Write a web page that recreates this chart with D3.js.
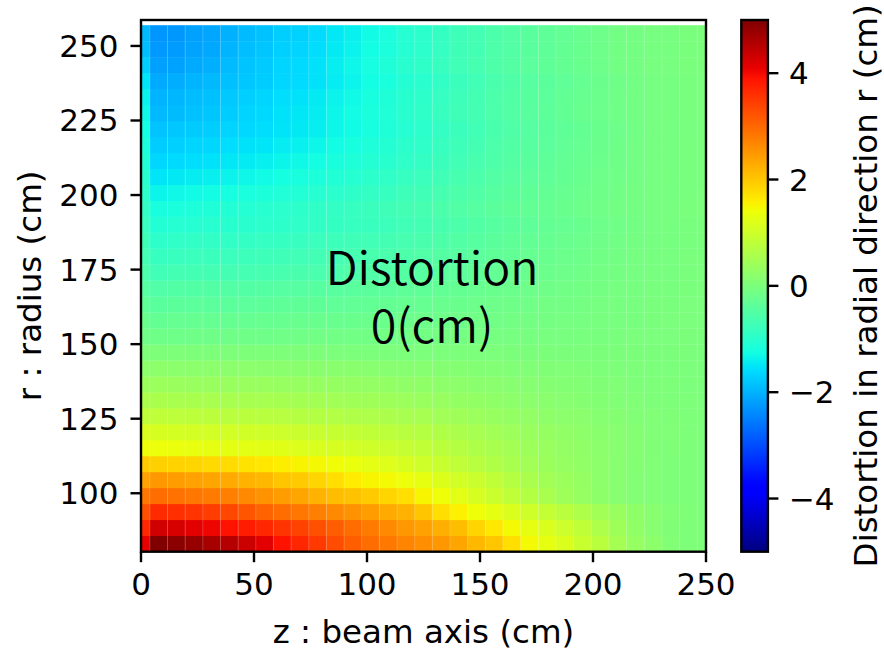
<!DOCTYPE html>
<html>
<head>
<meta charset="utf-8">
<script src="https://cdn.jsdelivr.net/npm/d3@7/dist/d3.min.js"></script>
<style>
	body { margin: 0; background: #ffffff; }
	text { font-family: "DejaVu Sans", sans-serif; fill: #000; }
</style>
</head>
<body>
<svg id="distortion_svg"></svg>
<script>
// grid centres along the beam axis (cm)
const zBins = [0, 7.81, 15.63, 23.44, 31.25, 39.06, 46.88, 54.69, 62.5, 70.31, 78.13, 85.94, 93.75,
	101.56, 109.38, 117.19, 125, 132.81, 140.63, 148.44, 156.25, 164.06, 171.88, 179.69, 187.5,
	195.31, 203.13, 210.94, 218.75, 226.56, 234.38, 242.19, 250];

// grid centres along the radius (cm), bottom to top
const rBins = [83.08, 88.43, 93.78, 99.13, 104.48, 109.83, 115.18, 120.53, 125.88, 131.23, 136.58,
	141.93, 147.28, 152.63, 157.98, 163.33, 168.68, 174.03, 179.38, 184.73, 190.08, 195.43, 200.78,
	206.13, 211.48, 216.83, 222.18, 227.53, 232.88, 238.23, 243.58, 248.93, 254.28];

// radial distortion (cm), one row per rBins entry, one value per zBins entry
const distortion = [
	[4.1,5.0,4.9,4.8,4.67,4.55,4.35,4.15,3.9,3.7,3.5,3.3,3.1,2.95,2.82,2.7,2.6,2.5,2.35,2.15,2.0,1.75,1.45,1.3,1.15,0.93,0.75,0.5,0.32,0.2,0.08,0.03,0.02],
	[3.7,4.3,4.25,4.15,4.05,3.9,3.8,3.7,3.55,3.4,3.25,3.1,2.95,2.8,2.65,2.5,2.4,2.25,2.1,1.85,1.65,1.45,1.3,1.15,0.98,0.82,0.6,0.42,0.26,0.14,0.06,0.03,0.02],
	[3.25,3.65,3.6,3.55,3.45,3.35,3.2,3.05,2.95,2.85,2.75,2.65,2.55,2.45,2.3,2.2,2.0,1.75,1.55,1.4,1.28,1.15,1.0,0.88,0.75,0.6,0.47,0.35,0.24,0.15,0.08,0.04,0.02],
	[2.85,2.95,2.9,2.85,2.8,2.75,2.65,2.55,2.45,2.35,2.2,2.1,2.05,1.95,1.85,1.75,1.5,1.4,1.25,1.1,0.95,0.82,0.68,0.55,0.42,0.32,0.22,0.14,0.08,0.05,0.03,0.02,0.01],
	[2.4,2.5,2.45,2.4,2.35,2.3,2.2,2.15,2.0,1.95,1.85,1.75,1.6,1.5,1.45,1.38,1.3,1.18,1.05,0.95,0.82,0.7,0.57,0.47,0.38,0.3,0.2,0.14,0.08,0.05,0.03,0.02,0.01],
	[1.95,1.9,1.88,1.85,1.8,1.78,1.7,1.65,1.58,1.52,1.47,1.42,1.35,1.27,1.2,1.1,1.0,0.93,0.83,0.73,0.64,0.55,0.46,0.39,0.32,0.26,0.2,0.14,0.09,0.05,0.03,0.02,0.01],
	[1.4,1.38,1.35,1.32,1.3,1.28,1.26,1.24,1.22,1.17,1.13,1.1,1.05,1.0,0.95,0.9,0.84,0.77,0.7,0.62,0.55,0.48,0.41,0.35,0.29,0.24,0.19,0.14,0.1,0.06,0.04,0.02,0.01],
	[1.15,1.1,1.07,1.06,1.05,1.04,1.02,1.0,0.98,0.95,0.92,0.9,0.86,0.82,0.78,0.74,0.7,0.64,0.58,0.52,0.46,0.41,0.36,0.31,0.26,0.22,0.18,0.14,0.1,0.07,0.05,0.03,0.02],
	[0.82,0.81,0.79,0.78,0.77,0.76,0.75,0.74,0.72,0.70,0.68,0.66,0.63,0.61,0.58,0.54,0.52,0.47,0.43,0.38,0.34,0.30,0.27,0.23,0.19,0.16,0.13,0.11,0.07,0.05,0.04,0.02,0.02],
	[0.58,0.57,0.55,0.55,0.54,0.54,0.53,0.52,0.51,0.49,0.48,0.46,0.44,0.43,0.40,0.38,0.36,0.33,0.30,0.27,0.24,0.21,0.19,0.16,0.14,0.11,0.09,0.07,0.05,0.03,0.03,0.02,0.01],
	[0.39,0.38,0.37,0.36,0.36,0.36,0.35,0.35,0.34,0.33,0.32,0.31,0.30,0.29,0.27,0.25,0.24,0.22,0.20,0.18,0.16,0.14,0.13,0.11,0.09,0.08,0.06,0.05,0.03,0.02,0.02,0.01,0.01],
	[0.2,0.20,0.19,0.19,0.19,0.19,0.19,0.18,0.18,0.17,0.17,0.16,0.16,0.15,0.14,0.13,0.13,0.12,0.11,0.09,0.08,0.07,0.07,0.06,0.05,0.04,0.03,0.03,0.02,0.01,0.01,0.01,0],
	[0.02,0.02,0.02,0.02,0.02,0.02,0.02,0.02,0.02,0.02,0.02,0.01,0.01,0.01,0.01,0.01,0.01,0.01,0.01,0.01,0.01,0,0,0,0,0,0,0,0,0,0,0,0],
	[-0.14,-0.16,-0.16,-0.15,-0.15,-0.15,-0.15,-0.15,-0.14,-0.14,-0.13,-0.13,-0.12,-0.12,-0.11,-0.11,-0.10,-0.09,-0.08,-0.08,-0.07,-0.06,-0.05,-0.04,-0.04,-0.03,-0.03,-0.02,-0.01,-0.01,-0.01,0,0],
	[-0.24,-0.28,-0.27,-0.27,-0.27,-0.26,-0.26,-0.25,-0.25,-0.24,-0.24,-0.23,-0.22,-0.21,-0.20,-0.19,-0.18,-0.16,-0.15,-0.13,-0.12,-0.10,-0.09,-0.08,-0.07,-0.06,-0.04,-0.04,-0.03,-0.02,-0.01,-0.01,-0.01],
	[-0.35,-0.41,-0.40,-0.39,-0.39,-0.39,-0.38,-0.37,-0.36,-0.35,-0.34,-0.33,-0.32,-0.31,-0.29,-0.27,-0.26,-0.24,-0.22,-0.19,-0.17,-0.15,-0.14,-0.11,-0.10,-0.08,-0.07,-0.05,-0.04,-0.02,-0.02,-0.01,-0.01],
	[-0.45,-0.53,-0.51,-0.51,-0.50,-0.50,-0.49,-0.48,-0.47,-0.46,-0.45,-0.43,-0.41,-0.40,-0.38,-0.36,-0.34,-0.31,-0.28,-0.25,-0.22,-0.20,-0.17,-0.15,-0.13,-0.11,-0.08,-0.07,-0.05,-0.03,-0.03,-0.02,-0.01],
	[-0.58,-0.71,-0.69,-0.68,-0.67,-0.67,-0.66,-0.65,-0.63,-0.61,-0.60,-0.58,-0.55,-0.53,-0.50,-0.48,-0.45,-0.41,-0.38,-0.33,-0.30,-0.26,-0.23,-0.20,-0.17,-0.14,-0.11,-0.09,-0.06,-0.04,-0.04,-0.02,-0.01],
	[-0.66,-0.83,-0.81,-0.80,-0.79,-0.78,-0.77,-0.76,-0.74,-0.71,-0.70,-0.67,-0.65,-0.62,-0.59,-0.56,-0.53,-0.48,-0.44,-0.39,-0.35,-0.31,-0.27,-0.23,-0.20,-0.17,-0.13,-0.11,-0.07,-0.05,-0.04,-0.02,-0.02],
	[-0.74,-0.95,-0.92,-0.91,-0.90,-0.89,-0.88,-0.86,-0.85,-0.82,-0.80,-0.77,-0.74,-0.71,-0.67,-0.64,-0.61,-0.55,-0.50,-0.45,-0.40,-0.35,-0.31,-0.27,-0.23,-0.19,-0.15,-0.12,-0.09,-0.06,-0.05,-0.03,-0.02],
	[-0.82,-1.08,-1.05,-1.04,-1.03,-1.02,-1.00,-0.98,-0.96,-0.93,-0.91,-0.87,-0.84,-0.81,-0.77,-0.72,-0.69,-0.63,-0.57,-0.51,-0.45,-0.40,-0.36,-0.30,-0.26,-0.22,-0.17,-0.14,-0.10,-0.06,-0.05,-0.03,-0.02],
	[-0.88,-1.20,-1.18,-1.15,-1.13,-1.09,-1.06,-1.03,-0.99,-0.96,-0.92,-0.88,-0.83,-0.79,-0.74,-0.68,-0.64,-0.58,-0.52,-0.46,-0.40,-0.35,-0.31,-0.26,-0.22,-0.18,-0.14,-0.11,-0.08,-0.05,-0.04,-0.02,-0.01],
	[-0.95,-1.35,-1.32,-1.29,-1.27,-1.23,-1.19,-1.16,-1.11,-1.08,-1.04,-0.99,-0.94,-0.88,-0.83,-0.76,-0.72,-0.65,-0.58,-0.52,-0.45,-0.40,-0.34,-0.30,-0.25,-0.20,-0.16,-0.12,-0.09,-0.05,-0.05,-0.03,-0.01],
	[-1.02,-1.50,-1.47,-1.43,-1.41,-1.37,-1.33,-1.29,-1.24,-1.20,-1.16,-1.10,-1.04,-0.98,-0.92,-0.85,-0.80,-0.72,-0.65,-0.58,-0.50,-0.44,-0.38,-0.33,-0.28,-0.23,-0.18,-0.14,-0.10,-0.06,-0.05,-0.03,-0.02],
	[-1.10,-1.64,-1.61,-1.57,-1.54,-1.49,-1.45,-1.41,-1.35,-1.31,-1.26,-1.20,-1.14,-1.07,-1.01,-0.93,-0.88,-0.79,-0.71,-0.63,-0.55,-0.48,-0.42,-0.36,-0.30,-0.25,-0.20,-0.15,-0.11,-0.07,-0.06,-0.03,-0.02],
	[-1.17,-1.74,-1.71,-1.66,-1.64,-1.58,-1.54,-1.50,-1.44,-1.39,-1.34,-1.27,-1.21,-1.14,-1.07,-0.98,-0.93,-0.84,-0.75,-0.67,-0.58,-0.51,-0.44,-0.38,-0.32,-0.26,-0.21,-0.16,-0.11,-0.07,-0.06,-0.03,-0.02],
	[-1.25,-1.84,-1.80,-1.76,-1.73,-1.67,-1.63,-1.58,-1.52,-1.47,-1.42,-1.34,-1.28,-1.21,-1.13,-1.04,-0.98,-0.88,-0.79,-0.71,-0.62,-0.54,-0.47,-0.40,-0.34,-0.28,-0.22,-0.17,-0.12,-0.07,-0.06,-0.04,-0.02],
	[-1.32,-1.94,-1.91,-1.85,-1.81,-1.74,-1.67,-1.62,-1.54,-1.49,-1.43,-1.34,-1.27,-1.18,-1.10,-1.00,-0.94,-0.83,-0.74,-0.67,-0.57,-0.50,-0.42,-0.37,-0.31,-0.24,-0.19,-0.14,-0.10,-0.06,-0.05,-0.03,-0.01],
	[-1.38,-1.99,-1.96,-1.90,-1.86,-1.78,-1.72,-1.66,-1.58,-1.53,-1.46,-1.37,-1.30,-1.21,-1.13,-1.02,-0.96,-0.86,-0.76,-0.68,-0.58,-0.51,-0.43,-0.38,-0.31,-0.25,-0.20,-0.14,-0.11,-0.06,-0.06,-0.03,-0.01],
	[-1.50,-2.08,-2.05,-1.98,-1.94,-1.86,-1.80,-1.74,-1.65,-1.60,-1.53,-1.44,-1.36,-1.26,-1.18,-1.07,-1.00,-0.89,-0.79,-0.71,-0.61,-0.54,-0.45,-0.40,-0.33,-0.26,-0.21,-0.15,-0.11,-0.06,-0.06,-0.03,-0.01],
	[-1.72,-2.18,-2.16,-2.07,-2.03,-1.92,-1.83,-1.77,-1.66,-1.61,-1.53,-1.42,-1.33,-1.22,-1.13,-1.00,-0.94,-0.83,-0.72,-0.65,-0.55,-0.48,-0.39,-0.35,-0.28,-0.22,-0.17,-0.11,-0.09,-0.04,-0.04,-0.02,0],
	[-1.90,-2.25,-2.23,-2.14,-2.09,-1.98,-1.89,-1.82,-1.71,-1.67,-1.58,-1.46,-1.37,-1.26,-1.17,-1.04,-0.97,-0.86,-0.74,-0.68,-0.56,-0.50,-0.41,-0.36,-0.29,-0.23,-0.18,-0.11,-0.09,-0.05,-0.05,-0.02,0],
	[-1.94,-2.28,-2.26,-2.17,-2.12,-2.01,-1.92,-1.85,-1.73,-1.69,-1.60,-1.48,-1.39,-1.28,-1.19,-1.05,-0.98,-0.87,-0.75,-0.68,-0.57,-0.50,-0.41,-0.36,-0.30,-0.23,-0.18,-0.11,-0.09,-0.05,-0.05,-0.02,0]
];

const zTicks = [0, 50, 100, 150, 200, 250];
const rTicks = [100, 125, 150, 175, 200, 225, 250];
const colorTicks = [-4, -2, 0, 2, 4];

const width = 884;
const height = 651;
const plot = { left: 141, right: 706, top: 20, bottom: 551.7 };
const cbar = { left: 741.3, right: 767.9 };
const tickLen = 10.5;
const fontTick = 31;
const fontLabel = 32.5;

const svg = d3.select("#distortion_svg")
	.attr("width", width)
	.attr("height", height);

const x = d3.scaleLinear().domain([0, 250]).range([plot.left, plot.right]);
const y = d3.scaleLinear().domain([80.4, 258.7]).range([plot.bottom, plot.top]);

// matplotlib "jet" as three piecewise linear channels
function channel(points) {
	return d3.scaleLinear()
		.domain(points.map(p => p[0]))
		.range(points.map(p => p[1]))
		.clamp(true);
}
const jetR = channel([[0, 0], [0.35, 0], [0.66, 1], [0.89, 1], [1, 0.5]]);
const jetG = channel([[0, 0], [0.125, 0], [0.375, 1], [0.64, 1], [0.91, 0], [1, 0]]);
const jetB = channel([[0, 0.5], [0.11, 1], [0.34, 1], [0.65, 0], [1, 0]]);
const jet = t => d3.rgb(jetR(t) * 255, jetG(t) * 255, jetB(t) * 255).toString();

const norm = d3.scaleLinear().domain([-5, 5]).range([0, 1]).clamp(true);
const color = v => jet(norm(v));

// cell edges halfway between neighbouring centres
function edges(centres) {
	return centres.map((c, i) => {
		const prev = i > 0 ? centres[i - 1] : c - (centres[i + 1] - c);
		const next = i < centres.length - 1 ? centres[i + 1] : c + (c - centres[i - 1]);
		return [(prev + c) / 2, (c + next) / 2];
	});
}
const zEdges = edges(zBins);
const rEdges = edges(rBins);

svg.append("defs").append("clipPath")
	.attr("id", "plot-clip")
	.append("rect")
	.attr("x", plot.left)
	.attr("y", plot.top)
	.attr("width", plot.right - plot.left)
	.attr("height", plot.bottom - plot.top);

const cells = [];
distortion.forEach((row, i) => {
	row.forEach((v, j) => {
		cells.push({ zi: j, ri: i, value: v });
	});
});

const mesh = svg.append("g")
	.attr("clip-path", "url(#plot-clip)");

mesh.selectAll(".cell")
	.data(cells)
	.enter().append("rect")
	.attr("class", "cell")
	.attr("x", d => x(zEdges[d.zi][0]))
	.attr("y", d => y(rEdges[d.ri][1]))
	.attr("width", d => x(zEdges[d.zi][1]) - x(zEdges[d.zi][0]) + 0.3)
	.attr("height", d => y(rEdges[d.ri][0]) - y(rEdges[d.ri][1]) + 0.3)
	.attr("fill", d => color(d.value));

// faint seams between the mesh columns
mesh.selectAll(".seam")
	.data(zEdges.slice(1))
	.enter().append("line")
	.attr("class", "seam")
	.attr("x1", d => x(d[0]))
	.attr("x2", d => x(d[0]))
	.attr("y1", y(rEdges[rEdges.length - 1][1]))
	.attr("y2", plot.bottom)
	.attr("stroke", "#ffffff")
	.attr("stroke-opacity", 0.2)
	.attr("stroke-width", 1);

// annotation inside the map
const noteFont = "'Noto Sans CJK JP', 'Noto Sans', sans-serif";
const note = svg.append("g")
	.attr("text-anchor", "middle");
note.append("text")
	.attr("x", 432)
	.attr("y", 285)
	.style("font-family", noteFont)
	.style("font-size", "46.5px")
	.style("font-weight", 350)
	.text("Distortion");
note.append("text")
	.attr("x", 432)
	.attr("y", 343)
	.style("font-family", noteFont)
	.style("font-size", "46.5px")
	.style("font-weight", 350)
	.text("0(cm)");

// axes frame and ticks
const frame = svg.append("g")
	.attr("stroke", "#000")
	.attr("stroke-width", 2.4)
	.attr("fill", "none");

frame.append("rect")
	.attr("x", plot.left)
	.attr("y", plot.top)
	.attr("width", plot.right - plot.left)
	.attr("height", plot.bottom - plot.top);

frame.selectAll(".xtick")
	.data(zTicks)
	.enter().append("line")
	.attr("x1", d => x(d))
	.attr("x2", d => x(d))
	.attr("y1", plot.bottom)
	.attr("y2", plot.bottom + tickLen);

frame.selectAll(".ytick")
	.data(rTicks)
	.enter().append("line")
	.attr("x1", plot.left - tickLen)
	.attr("x2", plot.left)
	.attr("y1", d => y(d))
	.attr("y2", d => y(d));

svg.selectAll(".xlabel")
	.data(zTicks)
	.enter().append("text")
	.attr("x", d => x(d))
	.attr("y", plot.bottom + 43.5)
	.attr("text-anchor", "middle")
	.style("font-size", fontTick + "px")
	.text(d => d);

svg.selectAll(".ylabel")
	.data(rTicks)
	.enter().append("text")
	.attr("x", plot.left - tickLen - 12)
	.attr("y", d => y(d) + 11)
	.attr("text-anchor", "end")
	.style("font-size", fontTick + "px")
	.text(d => d);

svg.append("text")
	.attr("x", (plot.left + plot.right) / 2)
	.attr("y", 643)
	.attr("text-anchor", "middle")
	.style("font-size", fontLabel + "px")
	.text("z : beam axis (cm)");

svg.append("text")
	.attr("transform", `translate(41, ${(plot.top + plot.bottom) / 2}) rotate(-90)`)
	.attr("text-anchor", "middle")
	.style("font-size", fontLabel + "px")
	.text("r : radius (cm)");

// colour bar
const cy = d3.scaleLinear().domain([-5, 5]).range([plot.bottom, plot.top]);

const gradient = svg.select("defs").append("linearGradient")
	.attr("id", "jet-gradient")
	.attr("x1", 0).attr("y1", 1)
	.attr("x2", 0).attr("y2", 0);

gradient.selectAll("stop")
	.data(d3.range(0, 1.0001, 0.01))
	.enter().append("stop")
	.attr("offset", d => d)
	.attr("stop-color", d => jet(d));

svg.append("rect")
	.attr("x", cbar.left)
	.attr("y", plot.top)
	.attr("width", cbar.right - cbar.left)
	.attr("height", plot.bottom - plot.top)
	.attr("fill", "url(#jet-gradient)")
	.attr("stroke", "#000")
	.attr("stroke-width", 2.4);

svg.selectAll(".ctick")
	.data(colorTicks)
	.enter().append("line")
	.attr("x1", cbar.right)
	.attr("x2", cbar.right + tickLen)
	.attr("y1", d => cy(d))
	.attr("y2", d => cy(d))
	.attr("stroke", "#000")
	.attr("stroke-width", 2.4);

svg.selectAll(".clabel")
	.data(colorTicks)
	.enter().append("text")
	.attr("x", cbar.right + tickLen + 10.5)
	.attr("y", d => cy(d) + 11)
	.style("font-size", fontTick + "px")
	.text(d => d < 0 ? "\u2212" + Math.abs(d) : d);

svg.append("text")
	.attr("transform", `translate(877, ${(plot.top + plot.bottom) / 2}) rotate(-90)`)
	.attr("text-anchor", "middle")
	.style("font-size", fontLabel + "px")
	.text("Distortion in radial direction r (cm)");
</script>
</body>
</html>
